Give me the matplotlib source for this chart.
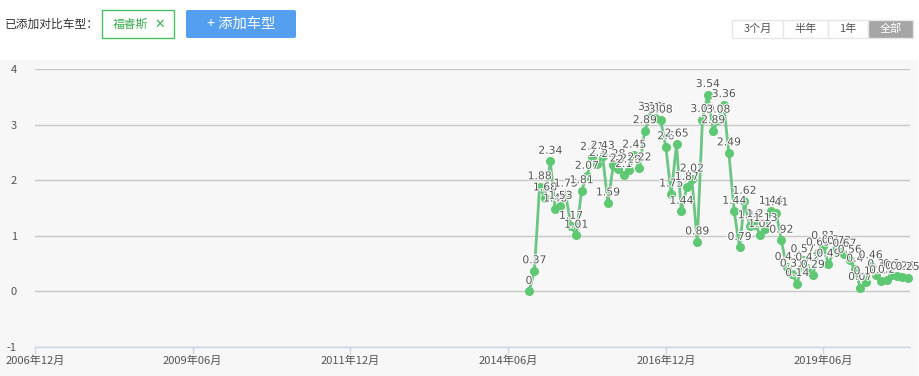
import matplotlib
matplotlib.use("Agg")
import matplotlib.pyplot as plt
import matplotlib.dates as mdates
import matplotlib.patheffects as pe
from matplotlib.patches import Rectangle, FancyBboxPatch
import pandas as pd

plt.rcParams['font.family'] = ['Noto Sans CJK SC', 'DejaVu Sans']

# monthly data, first month 2014-10
start_month = "2014-10"
values = [0, 0.37, 1.88, 1.68, 2.34, 1.48, 1.53, 1.75, 1.17, 1.01,
          1.81, 2.07, 2.41, 2.3, 2.43, 1.59, 2.28, 2.2, 2.1, 2.18,
          2.45, 2.22, 2.89, 3.13, 3.11, 3.08, 2.6, 1.75, 2.65, 1.44,
          1.87, 2.02, 0.89, 3.09, 3.54, 2.89, 3.08, 3.36, 2.49, 1.44,
          0.79, 1.62, 1.18, 1.2, 1.02, 1.13, 1.44, 1.41, 0.92, 0.43,
          0.31, 0.14, 0.57, 0.42, 0.29, 0.69, 0.81, 0.49, 0.73, 0.72,
          0.67, 0.56, 0.4, 0.07, 0.17, 0.46, 0.3, 0.19, 0.2, 0.3,
          0.27, 0.26, 0.25]
tick_months = ["2006-12", "2009-06", "2011-12", "2014-06", "2016-12", "2019-06"]
y_ticks = [-1, 0, 1, 2, 3, 4]
range_buttons = ["3个月", "半年", "1年", "全部"]
model_name = "福睿斯"

W, H = 920, 376
fig = plt.figure(figsize=(W / 100, H / 100), dpi=100)

# overlay in pixel coordinates for the page elements
ui = fig.add_axes([0, 0, 1, 1])
ui.set_xlim(0, W)
ui.set_ylim(H, 0)
ui.axis('off')

ui.add_patch(Rectangle((0, 60), 918, 316, facecolor='#f7f7f7', edgecolor='none'))

ui.text(5, 24, "已添加对比车型：", fontsize=8.5, color='#333333', va='center', ha='left')
ui.add_patch(Rectangle((102.5, 9.5), 72, 28, facecolor='white', edgecolor='#45bf5f', lw=1))
ui.text(130, 24, model_name, fontsize=8.5, color='#3fae55', va='center', ha='center')
ui.text(160, 24, "✕", fontsize=9, color='#3fae55', va='center', ha='center',
        family=['DejaVu Sans'])
ui.add_patch(FancyBboxPatch((186, 10), 110, 28, boxstyle="round,pad=0,rounding_size=2",
                            facecolor='#559ff0', edgecolor='none'))
ui.text(241, 23.5, "+ 添加车型", fontsize=10.3, color='white', va='center', ha='center')

seg = [732, 783, 828, 868, 913]
for i, lab in enumerate(range_buttons):
    last = i == len(range_buttons) - 1
    ui.add_patch(Rectangle((seg[i], 19.5), seg[i + 1] - seg[i], 18,
                           facecolor='#a5a5a5' if last else 'white',
                           edgecolor='#e6e6e6', lw=1))
    ui.text((seg[i] + seg[i + 1]) / 2, 28.5, lab, fontsize=8, va='center', ha='center',
            color='white' if last else '#555555')

# chart
x = pd.date_range(start_month + "-01", periods=len(values), freq='MS')
ax = fig.add_axes([35 / W, (H - 347) / H, (910 - 35) / W, (347 - 69) / H])
ax.set_facecolor('none')
ax.plot(x, values, color='#6cc583', lw=2.0, marker='o', ms=5.5,
        mfc='#5ec873', mec='#5ec873', zorder=3, clip_on=False)
for xi, v in zip(x, values):
    ax.annotate(f"{v:g}", (xi, v), xytext=(0, 4), textcoords='offset points',
                ha='center', va='bottom', fontsize=7.8, color='#555555', zorder=4,
                family=['DejaVu Sans'],
                path_effects=[pe.withStroke(linewidth=1.5, foreground='white')])

ax.set_ylim(-1, 4)
ax.set_xlim(pd.Timestamp("2006-12-01"), pd.Timestamp("2020-10-15"))
ax.set_yticks(y_ticks)
ax.set_yticklabels([str(t) for t in y_ticks], fontsize=8, color='#555555')
ax.set_xticks([pd.Timestamp(m + "-01") for m in tick_months])
ax.xaxis.set_major_formatter(mdates.DateFormatter('%Y年%m月'))
ax.tick_params(axis='x', labelsize=8, colors='#555555', length=5, width=1,
               color='#ccd6eb', pad=1)
ax.tick_params(axis='y', length=0, pad=13)
for t in ax.get_yticklabels():
    t.set_horizontalalignment('right')
ax.grid(axis='y', color='#c8c8c8', lw=1)
for s in ['top', 'right', 'left']:
    ax.spines[s].set_visible(False)
ax.spines['bottom'].set_color('#ccd6eb')
ax.spines['bottom'].set_linewidth(1)

fig.savefig("out.png", dpi=100)
